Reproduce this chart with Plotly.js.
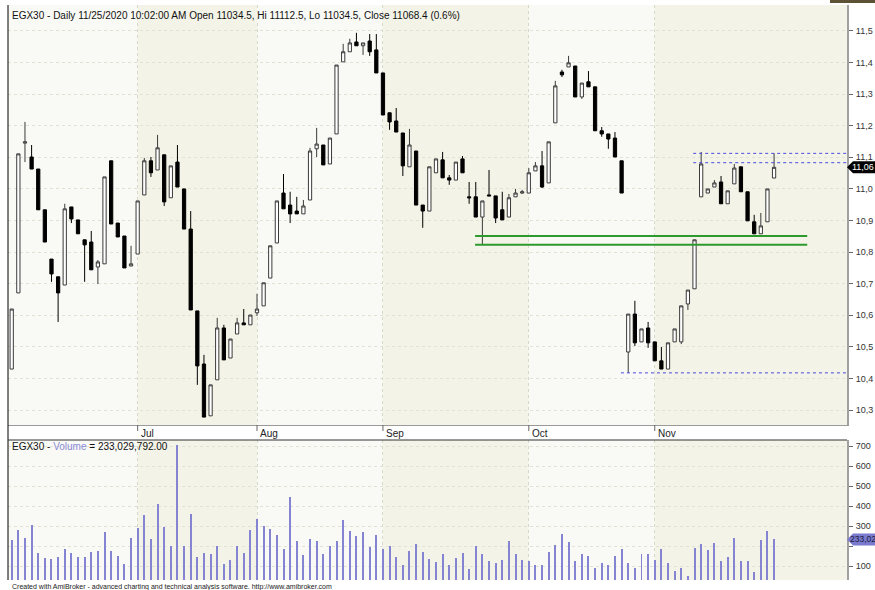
<!DOCTYPE html>
<html><head><meta charset="utf-8">
<script src="https://cdn.plot.ly/plotly-3.0.1.min.js"></script>
<style>html,body{margin:0;padding:0;overflow:hidden;background:#fff}#chart{width:875px;height:590px}
#topbar{position:absolute;left:830px;top:0;width:45px;height:3px;background:#5e5236}</style>
</head><body><div id="chart"></div><div id="topbar"></div>
<script>
// ---- data (EGX30 daily, Jun–Nov 2020) ----
const openP  = [10430,10671,11145,11101,11063,10934,10778,10722,10696,10943,10902,10839,10832,10753,10763,11089,10892,10851,10756,10794,
10981,11089,11060,11108,10972,11085,11000,10873,10614,10446,10282,10396,10560,10465,10541,10576,10570,10608,10630,10718,
10829,10987,10949,10930,10921,10965,11127,11139,11079,11174,11402,11434,11465,11453,11468,11440,11367,11241,11215,11177,
11070,11120,10949,10930,11051,11092,11035,11028,11095,10975,10975,10911,10981,10978,10934,10911,10975,10987,10987,11057,
11073,11019,11209,11370,11386,11389,11291,11339,11323,11184,11174,11161,11089,10484,10604,10516,10560,10516,10456,10430,
10516,10516,10636,10684,10975,10987,11006,11022,10953,11016,11070,10991,10896,10858,10896,11034.5];
const highP  = [10620,11111,11212,11139,11063,10934,10778,10722,10953,10943,10902,10839,10867,10775,11038,11089,10892,10851,10820,10962,
11098,11101,11171,11108,11073,11139,11000,10930,10614,10475,10380,10592,10570,10525,10592,10620,10601,10668,10703,10820,
10962,11047,10991,10975,10965,11130,11193,11139,11161,11392,11459,11475,11494,11462,11490,11490,11367,11241,11256,11177,
11190,11120,10949,11070,11095,11117,11044,11085,11104,11022,11022,10962,11060,10978,10991,10984,11000,10997,11066,11085,
11120,11149,11342,11377,11421,11389,11335,11373,11323,11196,11174,11180,11089,10604,10646,10557,10579,10516,10500,10513,
10557,10630,10680,10839,11117,11000,11028,11041,10994,11079,11070,10991,10918,10924,11000,11112.5];
const lowP   = [10430,10671,11085,11063,10934,10832,10706,10579,10696,10892,10858,10706,10744,10699,10763,10889,10848,10750,10756,10794,
10981,11038,11060,10946,10972,11006,10873,10617,10380,10278,10282,10396,10459,10465,10541,10570,10570,10598,10630,10718,
10829,10937,10892,10921,10921,10965,11101,11076,11079,11174,11402,11434,11453,11424,11421,11367,11234,11187,11180,11041,
11070,10949,10877,10930,11051,11035,11013,11028,11051,10953,10911,10823,10978,10892,10902,10911,10975,10984,10987,11057,
11003,11019,11209,11354,11386,11291,11285,11323,11184,11165,11127,11101,10987,10418,10503,10516,10497,10456,10430,10430,
10516,10509,10617,10684,10975,10987,11006,10953,10953,11016,10991,10899,10858,10858,10896,11034.5];
const closeP = [10620,11111,11149,11063,10934,10832,10731,10671,10937,10905,10858,10823,10744,10769,11038,10889,10848,10750,10763,10962,
11089,11051,11130,10959,11073,11006,10873,10617,10440,10278,10380,10560,10459,10525,10576,10570,10601,10620,10703,10820,
10962,10937,10921,10921,10946,11120,11142,11076,11161,11392,11434,11462,11453,11462,11434,11367,11234,11212,11180,11073,
11139,10949,10930,11070,11095,11035,11028,11085,11051,10972,10911,10962,10978,10908,10902,10972,10987,10991,11051,11073,
11006,11149,11326,11361,11399,11291,11335,11323,11184,11174,11158,11101,10987,10604,10513,10557,10513,10456,10430,10513,
10557,10630,10680,10839,11079,11000,11019,10953,10994,11066,10991,10899,10858,10883,11000,11068.4];
// volume in millions
const volumeM = [230,280,240,305,165,140,135,147,185,165,143,143,170,175,270,175,150,110,238,290,
355,233,410,297,202,705,202,360,147,167,160,198,110,130,202,165,280,335,300,285,
253,183,445,225,155,237,225,162,198,225,328,277,248,268,195,253,187,198,147,107,
175,210,170,135,118,158,103,140,165,85,200,158,127,115,130,225,162,130,127,103,
107,170,205,260,222,127,158,150,92,115,107,150,185,115,92,158,158,130,185,115,
75,88,48,190,208,178,213,127,147,242,123,123,72,230,277,233.03];
const monthNames = ['Jul','Aug','Sep','Oct','Nov'];
const monthStart = [19,37,56,78,97];
const priceTicks = [10300,10400,10500,10600,10700,10800,10900,11000,11100,11200,11300,11400,11500];
const priceTickText = ['10,3','10,4','10,5','10,6','10,7','10,8','10,9','11,0','11,1','11,2','11,3','11,4','11,5'];
const volTicks = [100,200,300,400,500,600,700];
const volTickText = ['100','','300','400','500','600','700'];
const supportLevels = [10851,10823];      // green lines
const supportFrom = 69.9, supportTo = 120;
const markerLevels = [11112.5,11083,10418]; // blue dotted lines
const markerFrom = [102.8,102.8,91.9];
const titleText = 'EGX30 - Daily 11/25/2020 10:02:00 AM Open 11034.5, Hi 11112.5, Lo 11034.5, Close 11068.4 (0.6%)';
const lastPriceText = '11,06', lastVolText = '233,02';

// ---- layout helpers ----
const idx = openP.map((_, i) => i);
const ML = 8, MR = 28, MT = 5, MB = 10, HH = 590, WW = 875;
const plotH = HH - MT - MB, plotW = WW - ML - MR;
const py = p => (HH - MB - p) / plotH;
const px = p => (p - ML) / plotW;
const FONT = 'Liberation Sans Narrow, Arial Narrow, Liberation Sans, Arial, sans-serif';
const XMIN = -0.56, XMAX = 126;

const shapes = [];
const bounds = [XMIN].concat(monthStart, [XMAX]);
for (let m = 0; m < bounds.length - 1; m++) {
  const col = (m % 2 === 0) ? '#f9f9f5' : '#f3f3e7';
  ['y domain', 'y2 domain'].forEach(r => shapes.push({type:'rect', xref:'x', yref:r, x0:bounds[m], x1:bounds[m+1], y0:0, y1:1, fillcolor:col, line:{width:0}, layer:'below'}));
}
// borders
shapes.push({type:'line', xref:'paper', yref:'paper', x0:0, x1:0, y0:0, y1:1, line:{color:'#000', width:1}});
shapes.push({type:'line', xref:'paper', yref:'y2 domain', x0:0, x1:1, y0:1, y1:1, line:{color:'#333', width:1}});
// month tick marks
monthStart.forEach(v => shapes.push({type:'line', xref:'x', yref:'paper', x0:v, x1:v, y0:py(425), y1:py(431), line:{color:'#666', width:1}}));
// support lines
supportLevels.forEach(v => shapes.push({type:'line', xref:'x', yref:'y', x0:supportFrom, x1:supportTo, y0:v, y1:v, line:{color:'#2e9a2e', width:2}}));
// blue dotted lines
markerLevels.forEach((v, i) => shapes.push({type:'line', xref:'x', yref:'y', x0:markerFrom[i], x1:XMAX, y0:v, y1:v, line:{color:'#4a4ae0', width:1, dash:'dot'}}));
// last price / volume flags
const lastC = closeP[closeP.length - 1], lastV = volumeM[volumeM.length - 1];
const dp = 6 / ((425 - MT) / (11582 - 10253));
shapes.push({type:'path', xref:'paper', yref:'y', path:`M 1 ${lastC} L ${px(853)} ${lastC + dp} L ${px(876)} ${lastC + dp} L ${px(876)} ${lastC - dp} L ${px(853)} ${lastC - dp} Z`, fillcolor:'#000', line:{width:0}});
const dv = 6 * 5;
shapes.push({type:'path', xref:'paper', yref:'y2', path:`M 1 ${lastV} L ${px(853)} ${lastV + dv} L ${px(876)} ${lastV + dv} L ${px(876)} ${lastV - dv} L ${px(853)} ${lastV - dv} Z`, fillcolor:'#7a7acf', line:{width:0}});

const annotations = [];
annotations.push({xref:'paper', yref:'paper', x:px(10), y:py(15), xanchor:'left', yanchor:'middle', text:titleText, showarrow:false, font:{family:FONT, size:10, color:'#111'}});
annotations.push({xref:'paper', yref:'paper', x:px(10), y:py(446), xanchor:'left', yanchor:'middle', text:'EGX30 - <span style="color:#8a8ad8">Volume</span> = 233,029,792.00', showarrow:false, font:{family:FONT, size:10, color:'#111'}});
annotations.push({xref:'paper', yref:'paper', x:px(10), y:py(587), xanchor:'left', yanchor:'middle', text:'Created with AmiBroker - advanced charting and technical analysis software. http://www.amibroker.com', showarrow:false, font:{family:FONT, size:7, color:'#222'}});
monthNames.forEach((n, i) => annotations.push({xref:'x', yref:'paper', x:monthStart[i], y:py(433), xanchor:'left', yanchor:'middle', xshift:1, text:n, showarrow:false, font:{family:FONT, size:10, color:'#222'}}));
annotations.push({xref:'paper', yref:'y', x:px(851), y:lastC, xanchor:'left', yanchor:'middle', text:lastPriceText, showarrow:false, borderpad:0, font:{family:FONT, size:9, color:'#fff'}});
annotations.push({xref:'paper', yref:'y2', x:px(849), y:lastV, xanchor:'left', yanchor:'middle', text:lastVolText, showarrow:false, borderpad:0, font:{family:FONT, size:8.5, color:'#1a1a3a'}});

const traces = [
  {type:'candlestick', x:idx, open:openP, high:highP, low:lowP, close:closeP, xaxis:'x', yaxis:'y',
   increasing:{line:{color:'#3a3a3a', width:1}, fillcolor:'#ffffff'},
   decreasing:{line:{color:'#000000', width:1}, fillcolor:'#000000'},
   whiskerwidth:0, hoverinfo:'skip'},
  {type:'bar', x:idx, y:volumeM, xaxis:'x', yaxis:'y2', width:0.3, marker:{color:'#8484d2', line:{width:0}}, hoverinfo:'skip'}
];

const layout = {
  width:WW, height:HH, margin:{l:ML, r:MR, t:MT, b:MB},
  paper_bgcolor:'#ffffff', plot_bgcolor:'#ffffff', showlegend:false, bargap:0,
  xaxis:{range:[XMIN, XMAX], tickvals:monthStart, showticklabels:false, ticks:'', showgrid:true, gridcolor:'#d8d8c8', griddash:'dot', gridwidth:1,
         zeroline:false, showline:true, linecolor:'#9a9a9a', linewidth:1, rangeslider:{visible:false}, fixedrange:true},
  yaxis:{domain:[py(425), 1], range:[10253, 11582], side:'right', tickvals:priceTicks, ticktext:priceTickText, ticks:'outside', ticklen:4, tickcolor:'#666',
         ticklabelstandoff:1, tickfont:{family:FONT, size:9, color:'#333'}, showgrid:true, gridcolor:'#e2e2d4', griddash:'dot',
         zeroline:false, showline:true, linecolor:'#a0a0a0', linewidth:2, fixedrange:true},
  yaxis2:{domain:[0, py(440)], range:[30, 730], side:'right', tickvals:volTicks, ticktext:volTickText, ticks:'outside', ticklen:4, tickcolor:'#666',
         ticklabelstandoff:1, tickfont:{family:FONT, size:9, color:'#333'}, showgrid:true, gridcolor:'#e2e2d4', griddash:'dot',
         zeroline:false, showline:true, linecolor:'#a0a0a0', linewidth:2, fixedrange:true},
  shapes:shapes, annotations:annotations
};
Plotly.newPlot('chart', traces, layout, {staticPlot:true, displayModeBar:false});
</script>
</body></html>
